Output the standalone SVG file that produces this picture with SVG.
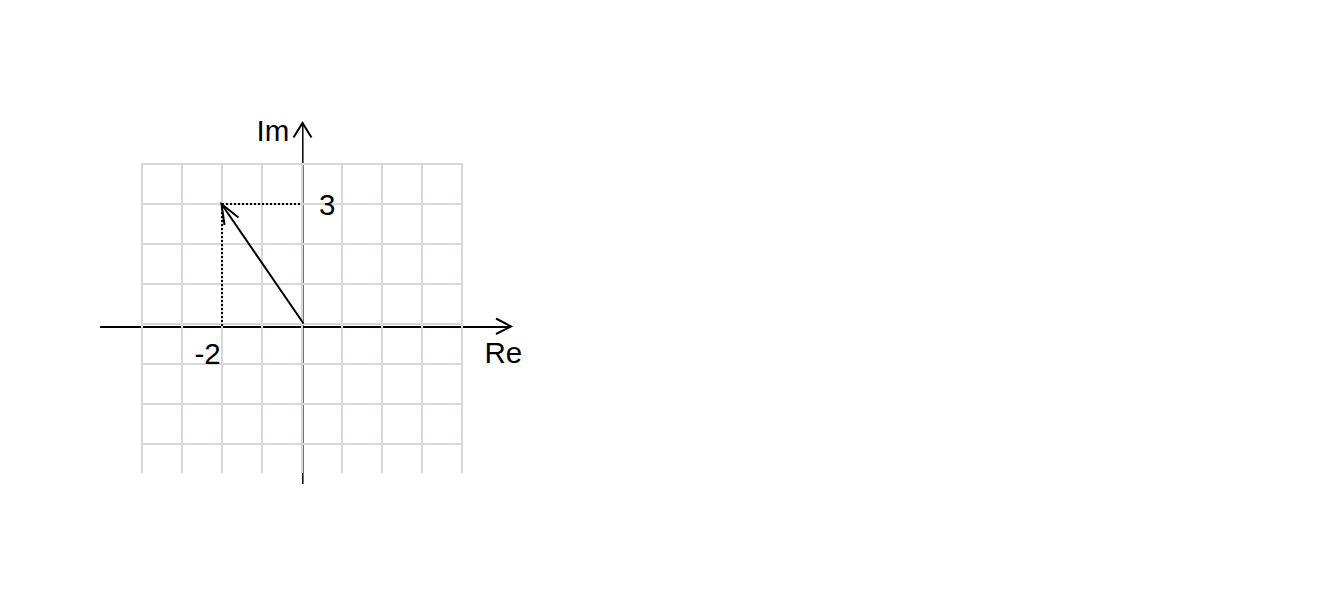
<svg xmlns="http://www.w3.org/2000/svg" width="1322" height="602" viewBox="0 0 1322 602">
<style>
.grid line{stroke:#dad6d6;stroke-width:2}
.ax{stroke:#000;stroke-width:2;fill:none}
.yax{stroke:#000;stroke-width:1.5;fill:none}
.dot{stroke:#000;stroke-width:2;stroke-dasharray:2 2;fill:none}
.lbl{font-family:"Liberation Sans",Arial,sans-serif;font-size:29.5px;fill:#000}
</style>
<rect width="1322" height="602" fill="#fff"/>
<g id="connectors">
<line class="ax" x1="100" y1="327" x2="510" y2="327"/>
<polyline class="ax" points="496,318.5 511,326.5 496,334"/>
<line class="yax" x1="302.8" y1="484" x2="302.8" y2="124"/>
<polyline class="ax" points="293.5,137.5 302.5,123 311.5,137.5"/>
</g>
<g id="grid" class="grid">
<line x1="142" y1="163" x2="142" y2="473"/>
<line x1="182" y1="163" x2="182" y2="473"/>
<line x1="222" y1="163" x2="222" y2="473"/>
<line x1="262" y1="163" x2="262" y2="473"/>
<line x1="302" y1="163" x2="302" y2="473"/>
<line x1="342" y1="163" x2="342" y2="473"/>
<line x1="382" y1="163" x2="382" y2="473"/>
<line x1="422" y1="163" x2="422" y2="473"/>
<line x1="462" y1="163" x2="462" y2="473"/>
<line x1="141" y1="164" x2="463" y2="164"/>
<line x1="141" y1="204" x2="463" y2="204"/>
<line x1="141" y1="244" x2="463" y2="244"/>
<line x1="141" y1="284" x2="463" y2="284"/>
<line x1="141" y1="324" x2="463" y2="324"/>
<line x1="141" y1="364" x2="463" y2="364"/>
<line x1="141" y1="404" x2="463" y2="404"/>
<line x1="141" y1="444" x2="463" y2="444"/>
</g>
<g id="vector">
<line class="dot" x1="222" y1="204" x2="302" y2="204"/>
<line class="dot" x1="222" y1="204" x2="222" y2="327"/>
<line class="ax" x1="303.5" y1="323.5" x2="221.5" y2="204"/>
<polyline class="ax" points="238.5,217.5 221.5,204 224.5,225"/>
</g>
<g id="labels">
<text class="lbl" x="256.5" y="140.5">Im</text>
<text class="lbl" x="319" y="214.5">3</text>
<text class="lbl" x="194.5" y="364">-2</text>
<text class="lbl" x="484.5" y="362.5">Re</text>
</g>
</svg>
